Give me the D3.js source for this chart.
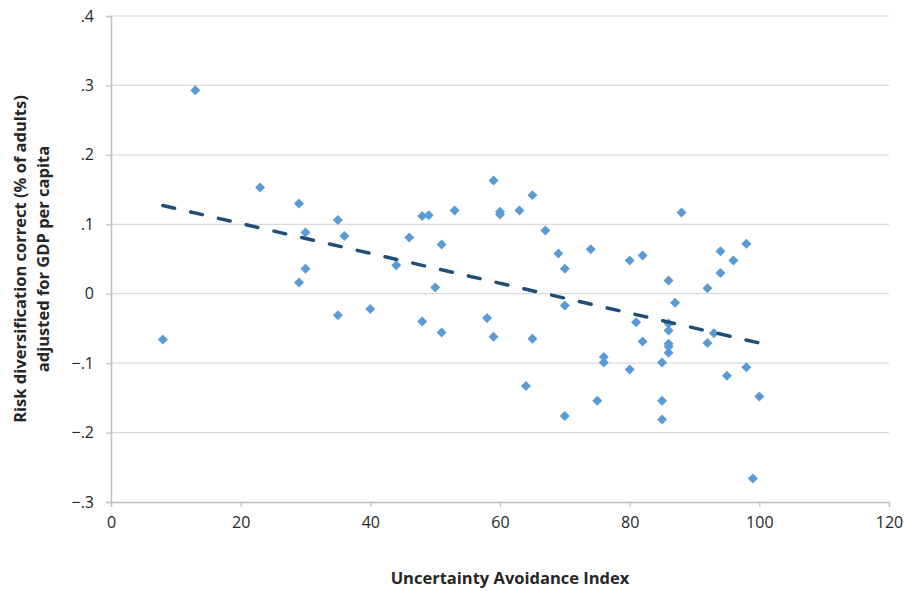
<!doctype html>
<html>
<head>
<meta charset="utf-8">
<title>Uncertainty avoidance vs risk diversification</title>
<script src="https://d3js.org/d3.v7.min.js"></script>
<style>
  body { margin: 0; background: #fff; }
  text { font-family: "Open Sans", "Noto Sans", sans-serif; fill: #262626; }
  .tick text { font-size: 16px; }
  .title { font-size: 16.5px; font-weight: bold; }
</style>
</head>
<body>
<div id="chart"></div>
<script>
// Uncertainty Avoidance Index
const uai = [8, 13, 23, 29, 30, 35, 36, 30, 29, 44, 35, 40,
  46, 48, 49, 53, 59, 60, 60, 63, 65, 67, 51, 69, 74, 70, 50, 70,
  48, 58, 51, 59, 65, 76, 76, 80, 85, 64, 75, 85, 70, 85,
  81, 82, 82, 80, 86, 87, 86, 86, 86, 86, 86,
  88, 98, 94, 96, 94, 92, 93, 92, 98, 95, 100, 99];
// risk diversification correct, adjusted for GDP per capita
const riskDiv = [-0.066, 0.293, 0.153, 0.130, 0.088, 0.106, 0.083, 0.036, 0.016, 0.041, -0.031, -0.022,
  0.081, 0.112, 0.113, 0.120, 0.163, 0.118, 0.114, 0.120, 0.142, 0.091, 0.071, 0.058, 0.064, 0.036, 0.009, -0.017,
  -0.040, -0.035, -0.056, -0.062, -0.065, -0.091, -0.099, -0.109, -0.099, -0.133, -0.154, -0.154, -0.176, -0.181,
  -0.041, -0.069, 0.055, 0.048, 0.019, -0.013, -0.043, -0.053, -0.072, -0.076, -0.085,
  0.117, 0.072, 0.061, 0.048, 0.030, 0.008, -0.057, -0.071, -0.106, -0.118, -0.148, -0.266];

// linear trend line end points
const trendX = [8, 100];
const trendY = [0.127, -0.071];

const xTicks = [0, 20, 40, 60, 80, 100, 120];
const yTicks = [-0.3, -0.2, -0.1, 0, 0.1, 0.2, 0.3, 0.4];

const W = 907, H = 591;
const plotL = 111, plotR = 889, plotT = 16, plotB = 502;

const svg = d3.select("#chart").append("svg")
  .attr("width", W)
  .attr("height", H);

const x = d3.scaleLinear().domain([0, 120]).range([plotL, plotR]);
const y = d3.scaleLinear().domain([-0.3, 0.4]).range([plotB, plotT]);

// horizontal gridlines
svg.append("g")
  .selectAll("line")
  .data(yTicks.filter(d => d !== -0.3))
  .enter()
  .append("line")
  .attr("x1", plotL)
  .attr("x2", plotR)
  .attr("y1", d => y(d))
  .attr("y2", d => y(d))
  .attr("stroke", "#d9d9d9")
  .attr("stroke-width", 1.2);

const fmtY = d => {
  if (Math.abs(d) < 1e-9) return "0";
  return (d < 0 ? "\u2212" : "") + "." + Math.round(Math.abs(d) * 10);
};

const yAxis = svg.append("g")
  .attr("transform", "translate(" + plotL + ",0)")
  .call(d3.axisLeft(y).tickValues(yTicks).tickFormat(fmtY).tickSize(5).tickPadding(12));

const xAxis = svg.append("g")
  .attr("transform", "translate(0," + plotB + ")")
  .call(d3.axisBottom(x).tickValues(xTicks).tickFormat(d3.format("d")).tickSize(5).tickPadding(10));

[yAxis, xAxis].forEach(g => {
  g.select(".domain").attr("stroke", "#bfbfbf").attr("stroke-width", 1.5);
  g.selectAll(".tick line").attr("stroke", "#bfbfbf").attr("stroke-width", 1.2);
  g.selectAll(".tick text").attr("fill", "#262626");
});

// data points
svg.append("g")
  .selectAll("path")
  .data(uai.map((u, i) => [u, riskDiv[i]]))
  .enter()
  .append("path")
  .attr("d", d3.symbol().type(d3.symbolSquare).size(50))
  .attr("transform", d => "translate(" + x(d[0]) + "," + y(d[1]) + ") rotate(45)")
  .attr("fill", "#5b9bd5");

// trend line
svg.append("path")
  .datum(trendX.map((t, i) => [t, trendY[i]]))
  .attr("d", d3.line().x(d => x(d[0])).y(d => y(d[1])))
  .attr("fill", "none")
  .attr("stroke", "#1f4e79")
  .attr("stroke-width", 3.5)
  .attr("stroke-linecap", "round")
  .attr("stroke-dasharray", "12,16.5");

// axis titles
svg.append("text")
  .attr("class", "title")
  .attr("x", 510)
  .attr("y", 584)
  .attr("text-anchor", "middle")
  .text("Uncertainty Avoidance Index");

const yTitle = svg.append("text")
  .attr("class", "title")
  .attr("text-anchor", "middle")
  .attr("transform", "translate(26,259) rotate(-90)");
yTitle.append("tspan").attr("x", 0).attr("dy", 0).text("Risk diversification correct (% of adults)");
yTitle.append("tspan").attr("x", 0).attr("dy", 23).text("adjusted for GDP per capita");
</script>
</body>
</html>
